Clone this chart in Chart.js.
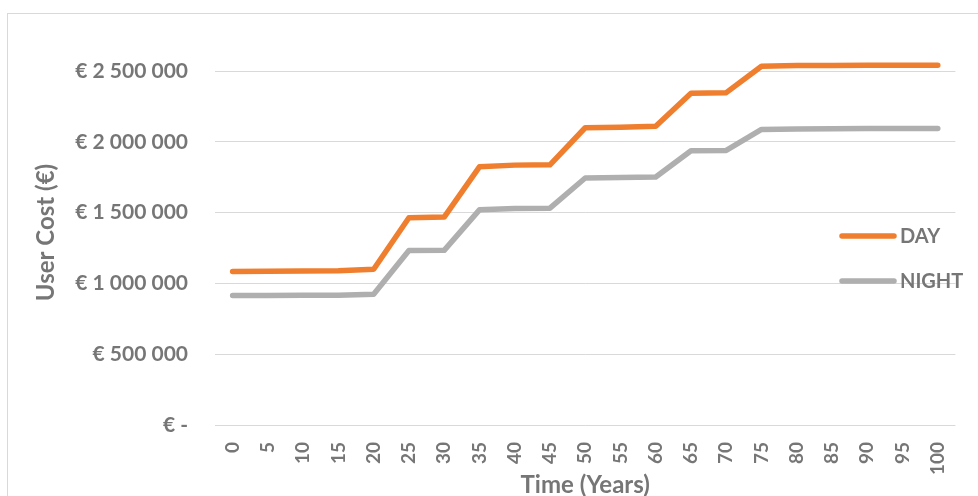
<!DOCTYPE html>
<html>
<head>
<meta charset="utf-8">
<script src="https://cdn.jsdelivr.net/npm/chart.js@4.4.0/dist/chart.umd.min.js"></script>
<style>
  html, body { margin: 0; padding: 0; background: #ffffff; }
  #wrap { width: 978px; height: 496px; }
</style>
</head>
<body>
<div id="wrap"><canvas id="c" width="978" height="496"></canvas></div>
<script>
// Time axis (years)
const years = ['0','5','10','15','20','25','30','35','40','45','50','55','60','65','70','75','80','85','90','95','100'];

// User cost in euros
const dayCost = [1085000, 1086000, 1088000, 1090000, 1100000, 1464000, 1469000, 1824000, 1836000, 1838000,
                 2100000, 2104000, 2110000, 2344000, 2348000, 2535000, 2539000, 2540000, 2541000, 2542000, 2542000];
const nightCost = [915000, 915000, 916000, 917000, 924000, 1233000, 1234000, 1520000, 1530000, 1532000,
                   1745000, 1748000, 1752000, 1937000, 1940000, 2088000, 2092000, 2093000, 2094000, 2094000, 2094000];

// Cost axis tick values
const costTicks = [0, 500000, 1000000, 1500000, 2000000, 2500000];

const seriesNames = ['DAY', 'NIGHT'];
const seriesColors = ['#EF7E2E', '#AFAFB0'];

const textGray = '#767676';
const fontFamily = 'Lato, "Open Sans", sans-serif';

function euro(v) {
  if (v === 0) return '€ -';
  return '€ ' + String(Math.round(v)).replace(/\B(?=(\d{3})+(?!\d))/g, ' ');
}

// Thin frame around the figure
const framePlugin = {
  id: 'frame',
  beforeDraw(chart) {
    const ctx = chart.ctx;
    ctx.save();
    ctx.fillStyle = '#ffffff';
    ctx.fillRect(0, 0, chart.width, chart.height);
    ctx.strokeStyle = '#D9D9D9';
    ctx.lineWidth = 1;
    ctx.strokeRect(7.5, 13.5, 1200, 800);
    ctx.restore();
  }
};

// Legend drawn on the right side of the plot
const sideLegend = {
  id: 'sideLegend',
  afterDraw(chart) {
    const ctx = chart.ctx;
    const rows = [236, 281];
    ctx.save();
    chart.data.datasets.forEach((ds, i) => {
      const y = rows[i];
      ctx.strokeStyle = ds.borderColor;
      ctx.lineWidth = 5.5;
      ctx.lineCap = 'round';
      ctx.beginPath();
      ctx.moveTo(842, y);
      ctx.lineTo(894, y);
      ctx.stroke();
      ctx.fillStyle = textGray;
      ctx.font = 'bold 20px ' + fontFamily;
      ctx.textAlign = 'left';
      ctx.textBaseline = 'middle';
      ctx.fillText(ds.label, 900, y + 1);
    });
    ctx.restore();
  }
};

new Chart(document.getElementById('c'), {
  type: 'line',
  data: {
    labels: years,
    datasets: [
      { label: seriesNames[0], data: dayCost, borderColor: seriesColors[0], backgroundColor: seriesColors[0] },
      { label: seriesNames[1], data: nightCost, borderColor: seriesColors[1], backgroundColor: seriesColors[1] }
    ]
  },
  options: {
    responsive: false,
    animation: false,
    devicePixelRatio: 1,
    layout: { padding: { left: 0, top: 40, right: 17, bottom: 0 } },
    elements: {
      line: { borderWidth: 5.5, tension: 0, borderCapStyle: 'round', borderJoinStyle: 'round' },
      point: { radius: 0, hoverRadius: 0 }
    },
    plugins: {
      legend: { display: false },
      tooltip: { enabled: false }
    },
    scales: {
      x: {
        offset: true,
        grid: { display: false, drawTicks: false },
        border: { display: false },
        ticks: {
          autoSkip: false, minRotation: 90, maxRotation: 90, padding: 17,
          color: textGray, font: { family: fontFamily, size: 19, weight: 'bold' }
        },
        title: {
          display: true, text: 'Time (Years)', color: textGray,
          font: { family: fontFamily, size: 24, weight: 'bold', lineHeight: 0.9 },
          padding: { top: 0, bottom: 0 }
        },
        afterFit(scale) { scale.height = 71; }
      },
      y: {
        min: 0,
        max: 2720000,
        grid: { color: '#D9D9D9', lineWidth: 1, drawTicks: false },
        border: { display: false },
        ticks: {
          padding: 27,
          color: textGray, font: { family: fontFamily, size: 21, weight: 'bold' },
          callback: (v) => euro(v)
        },
        afterBuildTicks(scale) {
          scale.ticks = costTicks.map(v => ({ value: v }));
        },
        title: {
          display: true, text: 'User Cost (€)', color: textGray,
          font: { family: fontFamily, size: 24, weight: 'bold', lineHeight: 0.9 },
          padding: { top: 35, bottom: 0 }
        },
        afterFit(scale) { scale.width = 215; }
      }
    }
  },
  plugins: [framePlugin, sideLegend]
});
</script>
</body>
</html>
